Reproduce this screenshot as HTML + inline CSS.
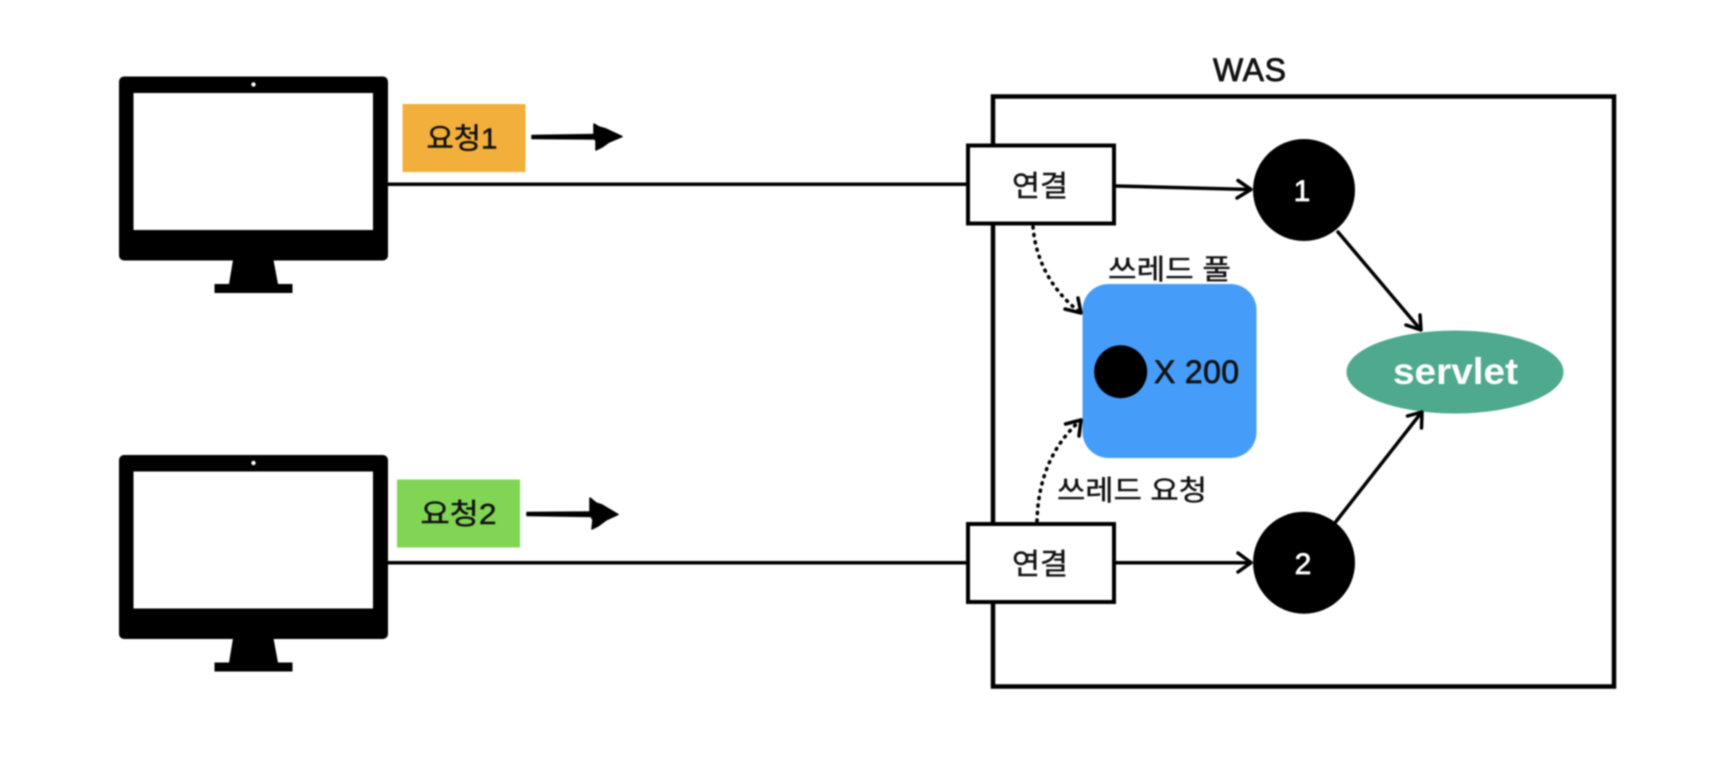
<!DOCTYPE html>
<html lang="ko">
<head>
<meta charset="utf-8">
<title>WAS thread pool</title>
<style>
html,body{margin:0;padding:0;background:#fff;width:1716px;height:778px;overflow:hidden}
svg{display:block;filter:blur(.7px)}
text{font-family:"Liberation Sans","Noto Sans CJK KR",sans-serif;fill:#111;stroke:#111;stroke-width:.45px}
text.w{fill:#fff;stroke:#fff}
</style>
</head>
<body>
<svg width="1716" height="778" viewBox="0 0 1716 778" xmlns="http://www.w3.org/2000/svg">
<rect width="1716" height="778" fill="#fff"/>

<!-- WAS -->
<rect x="993" y="96.5" width="621" height="590" fill="none" stroke="#000" stroke-width="4.5"/>
<text x="1249.5" y="81" font-size="32" text-anchor="middle" textLength="73" style="stroke-width:.8px">WAS</text>

<!-- Monitor 1 -->
<g>
<rect x="119" y="76.5" width="269" height="184" rx="5" fill="#000"/>
<rect x="133.5" y="93" width="239.5" height="137" fill="#fff"/>
<circle cx="253.5" cy="84.5" r="2.2" fill="#fff"/>
<path d="M233 260H273.5L278 284H292.5V293H214.5V284H229Z" fill="#000"/>
</g>
<!-- Monitor 2 -->
<g>
<rect x="119" y="455" width="269" height="184" rx="5" fill="#000"/>
<rect x="133.5" y="471.5" width="239.5" height="137" fill="#fff"/>
<circle cx="253.5" cy="463" r="2.2" fill="#fff"/>
<path d="M233 638.5H273.5L278 662.5H292.5V671.5H214.5V662.5H229Z" fill="#000"/>
</g>

<!-- Long lines -->
<line x1="388" y1="184.3" x2="968" y2="184.3" stroke="#000" stroke-width="3.5"/>
<line x1="388" y1="562.7" x2="968" y2="562.7" stroke="#000" stroke-width="3.5"/>

<!-- Request badges -->
<rect x="402.5" y="104" width="123" height="68" fill="#F2AF3C"/>
<text x="426.5" y="148.5" font-size="29" textLength="71" lengthAdjust="spacingAndGlyphs">요청1</text>
<rect x="397" y="479.5" width="123" height="68" fill="#80D654"/>
<text x="420.5" y="524" font-size="29" textLength="76" lengthAdjust="spacingAndGlyphs">요청2</text>

<!-- Rough arrows -->
<g fill="#000" stroke="#000" stroke-linejoin="round">
<path d="M532 135.5L598 134.5V139L532 138.5Z" stroke-width="1.5"/>
<path d="M594 124L599 127L606 129L622 136.5L609 142L602 147L596 150L596 141L594 137Z" stroke-width="1.5"/>
<path d="M527 512.5L594 512V516.5L527 515.5Z" stroke-width="1.5"/>
<path d="M590 498L596 503L602 505L618 514.5L606 520L598 526L592 529L593 520L590 514Z" stroke-width="1.5"/>
</g>

<!-- Connection boxes -->
<rect x="968" y="145.5" width="146" height="78" fill="#fff" stroke="#000" stroke-width="4"/>
<rect x="968" y="524" width="146" height="78" fill="#fff" stroke="#000" stroke-width="4"/>
<text x="1012" y="196" font-size="29" textLength="56" lengthAdjust="spacingAndGlyphs">연결</text>
<text x="1012" y="574" font-size="29" textLength="56" lengthAdjust="spacingAndGlyphs">연결</text>

<!-- Thread pool -->
<rect x="1082.5" y="284" width="174" height="174" rx="26" fill="#459DF9"/>
<circle cx="1120.7" cy="371.7" r="26.5" fill="#000"/>
<text x="1154" y="383" font-size="32" textLength="85" style="stroke-width:.7px">X 200</text>
<text x="1108" y="279" font-size="28" textLength="123" lengthAdjust="spacingAndGlyphs">쓰레드 풀</text>
<text x="1057" y="500" font-size="28" textLength="150" lengthAdjust="spacingAndGlyphs">쓰레드 요청</text>

<!-- Numbered circles -->
<circle cx="1304" cy="190" r="51" fill="#000"/>
<circle cx="1304" cy="562.7" r="51" fill="#000"/>
<text class="w" x="1302" y="201" font-size="30" text-anchor="middle" style="stroke-width:.7px">1</text>
<text class="w" x="1303" y="574" font-size="30" text-anchor="middle" style="stroke-width:.7px">2</text>

<!-- Servlet -->
<ellipse cx="1455" cy="372" rx="108.5" ry="41.5" fill="#4EA98F"/>
<text class="w" x="1393" y="384" font-size="37" font-weight="700" textLength="125" lengthAdjust="spacingAndGlyphs" style="stroke-width:0">servlet</text>

<!-- Connectors -->
<g fill="none" stroke="#000" stroke-width="3.5" stroke-linecap="round" stroke-linejoin="round">
<line x1="1116" y1="186" x2="1250" y2="189.5"/>
<polyline points="1238,180.5 1251,189.5 1237,198"/>
<line x1="1116" y1="562.7" x2="1250" y2="562.7"/>
<polyline points="1238,553 1251,562.7 1238,572"/>
<line x1="1338" y1="232" x2="1420" y2="329"/>
<polyline points="1406,325 1421,330 1420,315"/>
<line x1="1336" y1="521.5" x2="1421" y2="413"/>
<polyline points="1407.5,416 1422,412 1421.5,428"/>
<path d="M1033 227C1036 262 1053 292 1081 313" stroke-dasharray="1 6.5" stroke-width="3.6"/>
<polyline points="1065,309 1081,313 1078,298"/>
<path d="M1037 521C1038 480 1052 445 1081 420" stroke-dasharray="1 6.5" stroke-width="3.6"/>
<polyline points="1065.5,424 1081,420 1079,436"/>
</g>
</svg>
</body>
</html>
